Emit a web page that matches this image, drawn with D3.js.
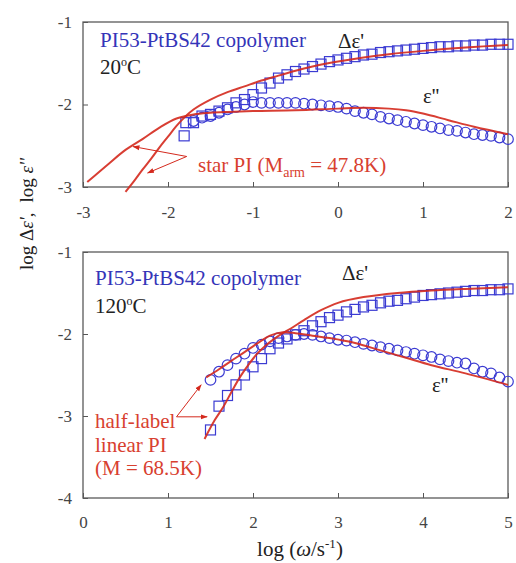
<!DOCTYPE html>
<html>
<head>
<meta charset="utf-8">
<script src="https://cdn.jsdelivr.net/npm/d3@7"></script>
<style>
  body { margin: 0; background: #fff; }
  svg { display: block; font-family: "Liberation Serif", "Times New Roman", serif; }
</style>
</head>
<body>
<div id="chart"></div>
<script>
// top panel, 20 C
const topSqX = [-1.81,-1.79,-1.7,-1.6,-1.5,-1.4,-1.3,-1.2,-1.1,-1.0,-0.9,-0.8,-0.7,-0.6,-0.5,-0.4,-0.3,-0.2,-0.1,0.0,0.1,0.2,0.3,0.4,0.5,0.6,0.7,0.8,0.9,1.0,1.1,1.2,1.3,1.4,1.5,1.6,1.7,1.8,1.9,2.0];
const topSqY = [-2.38,-2.22,-2.22,-2.14,-2.12,-2.08,-2.04,-1.98,-1.94,-1.88,-1.80,-1.74,-1.68,-1.64,-1.60,-1.57,-1.54,-1.51,-1.48,-1.46,-1.44,-1.42,-1.40,-1.39,-1.37,-1.36,-1.35,-1.34,-1.33,-1.32,-1.31,-1.30,-1.30,-1.29,-1.29,-1.28,-1.28,-1.27,-1.27,-1.27];
const topCiX = [-1.7,-1.6,-1.5,-1.4,-1.3,-1.2,-1.1,-1.0,-0.9,-0.8,-0.7,-0.6,-0.5,-0.4,-0.3,-0.2,-0.1,0.0,0.1,0.2,0.3,0.4,0.5,0.6,0.7,0.8,0.9,1.0,1.1,1.2,1.3,1.4,1.5,1.6,1.7,1.8,1.9,2.0];
const topCiY = [-2.20,-2.16,-2.14,-2.10,-2.06,-2.03,-2.00,-1.97,-1.98,-1.98,-1.98,-1.98,-1.98,-1.99,-2.00,-2.01,-2.02,-2.03,-2.05,-2.08,-2.10,-2.12,-2.15,-2.17,-2.19,-2.21,-2.23,-2.25,-2.27,-2.29,-2.31,-2.32,-2.34,-2.36,-2.37,-2.38,-2.40,-2.42];
// star PI fits
const topFitLossX = [-2.95,-2.7,-2.5,-2.3,-2.1,-1.9,-1.7,-1.5,-1.3,-1.0,-0.5,0.0,0.3,0.6,0.8,1.0,1.3,1.6,2.0];
const topFitLossY = [-2.94,-2.72,-2.55,-2.42,-2.28,-2.17,-2.12,-2.10,-2.09,-2.08,-2.07,-2.05,-2.04,-2.05,-2.07,-2.11,-2.19,-2.27,-2.36];
const topFitStorX = [-2.5,-2.4,-2.3,-2.2,-2.1,-2.0,-1.9,-1.8,-1.7,-1.5,-1.3,-1.1,-0.9,-0.7,-0.5,-0.3,0.0,0.3,0.6,1.0,1.5,2.0];
const topFitStorY = [-3.06,-2.93,-2.79,-2.66,-2.52,-2.39,-2.26,-2.15,-2.06,-1.94,-1.85,-1.78,-1.71,-1.65,-1.59,-1.54,-1.48,-1.43,-1.39,-1.35,-1.31,-1.28];

// bottom panel, 120 C
const botSqX = [1.5,1.6,1.7,1.8,1.9,2.0,2.1,2.2,2.3,2.4,2.5,2.6,2.7,2.8,2.9,3.0,3.1,3.2,3.3,3.4,3.5,3.6,3.7,3.8,3.9,4.0,4.1,4.2,4.3,4.4,4.5,4.6,4.7,4.8,4.9,5.0];
const botSqY = [-3.17,-2.88,-2.75,-2.62,-2.50,-2.40,-2.30,-2.18,-2.11,-2.06,-2.01,-1.96,-1.90,-1.85,-1.80,-1.77,-1.73,-1.70,-1.67,-1.65,-1.62,-1.60,-1.59,-1.57,-1.55,-1.53,-1.52,-1.51,-1.50,-1.49,-1.48,-1.47,-1.47,-1.46,-1.46,-1.45];
const botCiX = botSqX;
const botCiY = [-2.56,-2.46,-2.38,-2.30,-2.24,-2.17,-2.13,-2.09,-2.05,-2.03,-2.01,-2.00,-2.01,-2.03,-2.05,-2.07,-2.08,-2.10,-2.12,-2.14,-2.16,-2.18,-2.20,-2.22,-2.24,-2.26,-2.28,-2.31,-2.33,-2.35,-2.36,-2.42,-2.46,-2.48,-2.53,-2.58];
// half-label linear PI fits
const botFitLossX = [1.45,1.6,1.8,2.0,2.1,2.2,2.35,2.5,2.7,2.9,3.2,3.5,3.8,4.1,4.5,5.0];
const botFitLossY = [-2.53,-2.43,-2.29,-2.15,-2.08,-2.02,-1.98,-1.99,-2.02,-2.05,-2.11,-2.20,-2.29,-2.38,-2.48,-2.62];
const botFitStorX = [1.43,1.55,1.65,1.75,1.85,1.95,2.05,2.15,2.25,2.35,2.45,2.6,2.8,3.0,3.3,3.7,4.1,4.5,5.0];
const botFitStorY = [-3.28,-3.05,-2.89,-2.70,-2.52,-2.37,-2.24,-2.14,-2.06,-1.99,-1.93,-1.83,-1.71,-1.62,-1.55,-1.50,-1.47,-1.45,-1.43];

const topXTicks = [-3,-2,-1,0,1,2];
const topYTicks = [-1,-2,-3];
const botXTicks = [0,1,2,3,4,5];
const botYTicks = [-1,-2,-3,-4];

const W = 516, H = 563;
const BLUE = '#3b3bd2', BLUE_TXT = '#3434b8', RED = '#d4291d', RED_TXT = '#d8402f';

const svg = d3.select('#chart').append('svg').attr('width', W).attr('height', H);

const zip = (xs, ys) => xs.map((x, i) => ({x: x, y: ys[i]}));

svg.append('defs').append('marker')
  .attr('id', 'arr').attr('viewBox', '0 0 10 10').attr('refX', 9).attr('refY', 5)
  .attr('markerWidth', 7).attr('markerHeight', 7).attr('orient', 'auto-start-reverse')
  .append('path').attr('d', 'M0,1.5 L10,5 L0,8.5 Z').attr('fill', RED);

function panel(cfg) {
  const x = d3.scaleLinear().domain(cfg.xDom).range([83, 508]);
  const y = d3.scaleLinear().domain(cfg.yDom).range(cfg.yRange);
  const g = svg.append('g');
  const y0 = cfg.yRange[0], y1 = cfg.yRange[1];

  const xa = g.append('g').attr('transform', `translate(0,${y0})`)
    .call(d3.axisBottom(x).tickValues(cfg.xTicks).tickSize(-5).tickPadding(cfg.xPad).tickFormat(d => String(d)));
  const ya = g.append('g').attr('transform', 'translate(83,0)')
    .call(d3.axisLeft(y).tickValues(cfg.yTicks).tickSize(-5).tickPadding(11).tickFormat(d => String(d)));
  [xa, ya].forEach(a => {
    a.select('.domain').remove();
    a.selectAll('line').attr('stroke', '#555');
    a.selectAll('text').attr('font-family', 'Liberation Serif').attr('font-size', 17).attr('fill', '#444');
  });

  g.append('rect').attr('x', 83).attr('y', y1).attr('width', 425).attr('height', y0 - y1)
    .attr('fill', 'none').attr('stroke', '#5a5a5a').attr('stroke-width', 1.3);

  const line = d3.line().x(d => x(d.x)).y(d => y(d.y)).curve(d3.curveCatmullRom.alpha(0.5));

  const sz = 10;
  g.append('g').selectAll('rect').data(zip(cfg.sqX, cfg.sqY)).join('rect')
    .attr('x', d => x(d.x) - sz / 2).attr('y', d => y(d.y) - sz / 2)
    .attr('width', sz).attr('height', sz)
    .attr('fill', 'none').attr('stroke', BLUE).attr('stroke-width', 1.2);
  g.append('g').selectAll('circle').data(zip(cfg.ciX, cfg.ciY)).join('circle')
    .attr('cx', d => x(d.x)).attr('cy', d => y(d.y)).attr('r', 5.3)
    .attr('fill', 'none').attr('stroke', BLUE).attr('stroke-width', 1.2);

  cfg.fits.forEach(f => {
    g.append('path').datum(zip(f[0], f[1])).attr('d', line)
      .attr('fill', 'none').attr('stroke', RED).attr('stroke-width', 2).attr('stroke-opacity', 0.9);
  });

  cfg.arrows.forEach(a => {
    g.append('line')
      .attr('x1', x(a[0])).attr('y1', y(a[1])).attr('x2', x(a[2])).attr('y2', y(a[3]))
      .attr('stroke', RED).attr('stroke-width', 1).attr('marker-end', 'url(#arr)');
  });
  return g;
}

const gt = panel({
  xDom: [-3, 2], yDom: [-3, -1], yRange: [187, 22], xTicks: topXTicks, yTicks: topYTicks, xPad: 19,
  sqX: topSqX, sqY: topSqY, ciX: topCiX, ciY: topCiY,
  fits: [[topFitLossX, topFitLossY], [topFitStorX, topFitStorY]],
  arrows: [[-1.78, -2.63, -2.41, -2.51], [-1.78, -2.63, -2.24, -2.83]]
});

const gb = panel({
  xDom: [0, 5], yDom: [-4, -1], yRange: [498, 252], xTicks: botXTicks, yTicks: botYTicks, xPad: 18,
  sqX: botSqX, sqY: botSqY, ciX: botCiX, ciY: botCiY,
  fits: [[botFitLossX, botFitLossY], [botFitStorX, botFitStorY]],
  arrows: [[1.10, -3.01, 1.39, -2.62], [1.10, -3.01, 1.46, -3.01]]
});

function label(g, px, py, color, size) {
  return g.append('text').attr('x', px).attr('y', py).attr('fill', color).attr('font-size', size);
}

// top panel texts
label(gt, 100, 47, BLUE_TXT, 21).text('PI53-PtBS42 copolymer');
const t20 = label(gt, 100, 74, '#222', 21);
t20.append('tspan').text('20');
t20.append('tspan').attr('font-size', 12).attr('dy', -8).text('o');
t20.append('tspan').attr('dy', 8).text('C');
label(gt, 338, 48, '#222', 21).text("\u0394\u03b5'");
label(gt, 423, 103, '#222', 21).text("\u03b5''");
const sp = label(gt, 198, 172, RED_TXT, 21);
sp.append('tspan').text('star PI (M');
sp.append('tspan').attr('font-size', 14).attr('dy', 5).text('arm');
sp.append('tspan').attr('dy', -5).text(' = 47.8K)');

// bottom panel texts
label(gb, 95, 285, BLUE_TXT, 21).text('PI53-PtBS42 copolymer');
const t120 = label(gb, 95, 313, '#222', 21);
t120.append('tspan').text('120');
t120.append('tspan').attr('font-size', 12).attr('dy', -8).text('o');
t120.append('tspan').attr('dy', 8).text('C');
label(gb, 342, 280, '#222', 21).text("\u0394\u03b5'");
label(gb, 432, 392, '#222', 21).text("\u03b5''");
['half-label', 'linear PI', '(M = 68.5K)'].forEach((s, i) => {
  label(gb, 95, 428 + i * 23.5, RED_TXT, 21).text(s);
});

// axis titles
const xt = svg.append('text').attr('x', 300).attr('y', 556).attr('text-anchor', 'middle')
  .attr('font-size', 21).attr('fill', '#222');
xt.append('tspan').text('log (');
xt.append('tspan').attr('font-style', 'italic').text('\u03c9');
xt.append('tspan').text('/s');
xt.append('tspan').attr('font-size', 13).attr('dy', -8).text('-1');
xt.append('tspan').attr('dy', 8).text(')');

const yt = svg.append('text').attr('transform', 'translate(33,214) rotate(-90)')
  .attr('text-anchor', 'middle').attr('font-size', 19).attr('fill', '#222');
yt.append('tspan').text('log \u0394');
yt.append('tspan').attr('font-style', 'italic').text("\u03b5'");
yt.append('tspan').text(',');
yt.append('tspan').attr('dx', 10).text('log ');
yt.append('tspan').attr('font-style', 'italic').text("\u03b5''");
</script>
</body>
</html>
